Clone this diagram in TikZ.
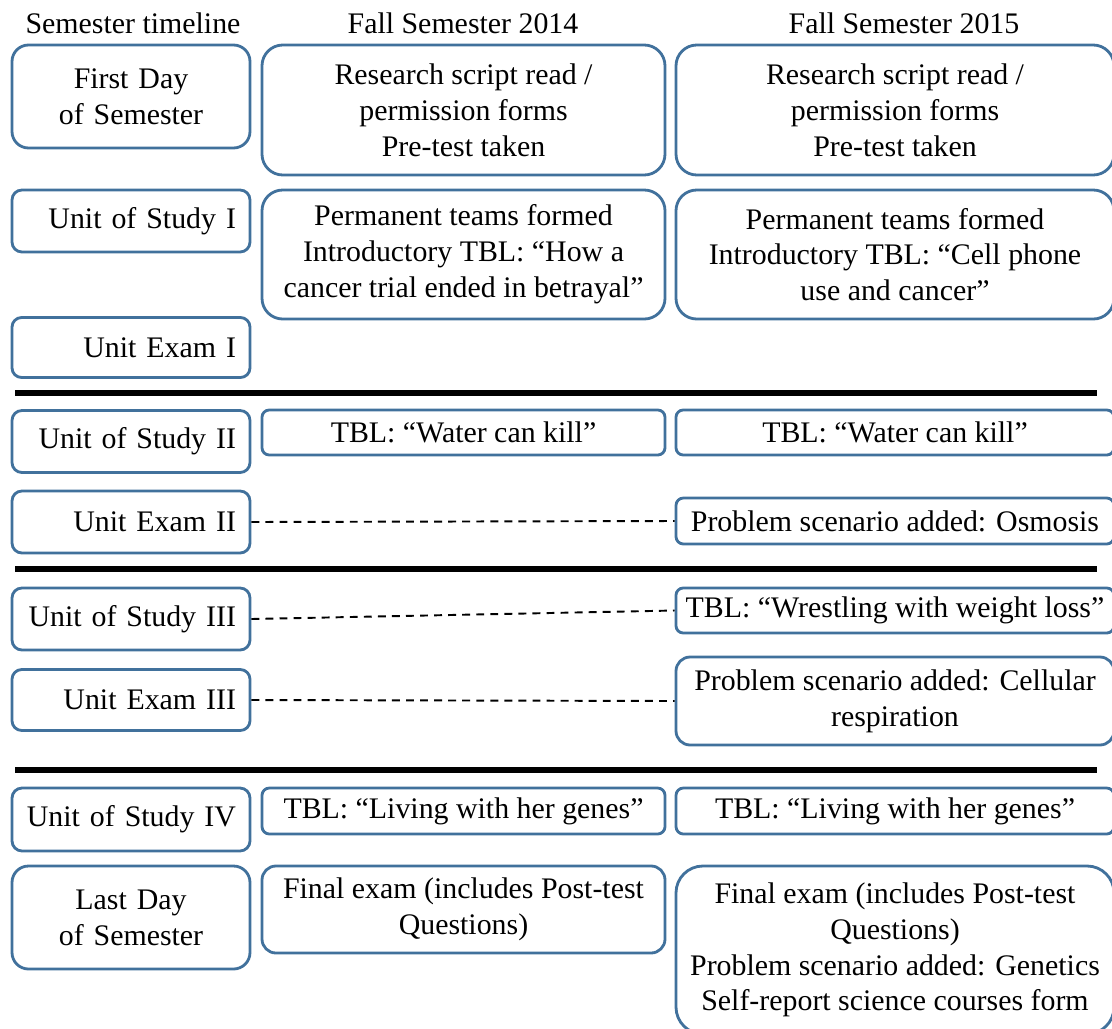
\documentclass[tikz,border=0pt]{standalone}
\usepackage{fontspec}
\setmainfont{Liberation Serif}
\usepackage{tikz}
\definecolor{boxblue}{HTML}{41719C}

\tikzset{
  every node/.style={font=\fontsize{17}{20.4}\selectfont},
  tbox/.style={draw=boxblue, line width=1.6pt, fill=white, align=center, inner sep=0pt},
  sz/.style 2 args={minimum width=#1*0.02cm, minimum height=#2*0.02cm, rounded corners=#2*0.0032cm},
  lbox/.style={tbox, text width=4.2cm, align=right},
  sepline/.style={line width=3.4pt},
  gapline/.style={line width=1.1pt, dash pattern=on 4.5pt off 3.5pt}
}

\begin{document}
\begin{tikzpicture}[x=0.02cm, y=-0.02cm]
 \useasboundingbox (0,0) rectangle (1112,1028);
 % column heads
 \node[anchor=base] (head0) at (133,33) {Semester timeline};
 \node[anchor=base] (head1) at (463,33) {Fall Semester 2014};
 \node[anchor=base] (head2) at (904,33) {Fall Semester 2015};
 % semester timeline
 \node[lbox, align=center, sz={238}{103}] (t1) at (131,96.5) {First Day\\of Semester};
 \node[lbox, sz={238}{62}] (t2) at (131,221) {Unit of Study I};
 \node[lbox, sz={238}{60}] (t3) at (131,347.5) {Unit Exam I};
 \node[lbox, sz={238}{62}] (t4) at (131,441.5) {Unit of Study II};
 \node[lbox, sz={238}{62}] (t5) at (131,522) {Unit Exam II};
 \node[lbox, sz={238}{62}] (t6) at (131,619) {Unit of Study III};
 \node[lbox, sz={238}{61}] (t7) at (131,700) {Unit Exam III};
 \node[lbox, sz={238}{63}] (t8) at (131,819.5) {Unit of Study IV};
 \node[lbox, align=center, sz={238}{103}] (t9) at (131,917.5) {Last Day\\of Semester};
 % fall 2014
 \node[tbox, sz={403}{130}] (a1) at (463.5,110) {Research script read /\\permission forms\\Pre-test taken};
 \node[tbox, sz={403}{129}] (a2) at (463.5,254.5) {Permanent teams formed\\Introductory TBL: “How a\\cancer trial ended in betrayal”};
 \node[tbox, sz={403}{45}] (a4) at (463.5,432.5) {TBL: “Water can kill”};
 \node[tbox, sz={403}{46}] (a8) at (463.5,811) {TBL: “Living with her genes”};
 \node[tbox, sz={403}{87}] (a9) at (463.5,909.5) {Final exam (includes Post-test\\Questions)};
 % fall 2015
 \node[tbox, sz={438}{130}] (b1) at (895,110) {Research script read /\\permission forms\\Pre-test taken};
 \node[tbox, sz={438}{129}] (b2) at (895,254.5) {Permanent teams formed\\Introductory TBL: “Cell phone\\use and cancer”};
 \node[tbox, sz={438}{45}] (b4) at (895,432.5) {TBL: “Water can kill”};
 \node[tbox, sz={438}{46}] (b5) at (895,521) {Problem scenario added: Osmosis};
 \node[tbox, sz={438}{45}] (b6) at (895,610.5) {TBL: “Wrestling with weight loss”};
 \node[tbox, sz={438}{88}] (b7) at (895,701) {Problem scenario added: Cellular\\respiration};
 \node[tbox, sz={438}{46}] (b8) at (895,811) {TBL: “Living with her genes”};
 \node[tbox, sz={438}{168}] (b9) at (895,950) {Final exam (includes Post-test\\Questions)\\Problem scenario added: Genetics\\Self-report science courses form};
 % unit breaks
 \draw[sepline] (15,393) -- (1097,393);
 \draw[sepline] (15,569) -- (1097,569);
 \draw[sepline] (15,770) -- (1097,770);
 % changes only in 2015
 \draw[gapline] (t5.east) -- (b5.west);
 \draw[gapline] (t6.east) -- (b6.west);
 \draw[gapline] (t7.east) -- (b7.west);
\end{tikzpicture}
\end{document}
